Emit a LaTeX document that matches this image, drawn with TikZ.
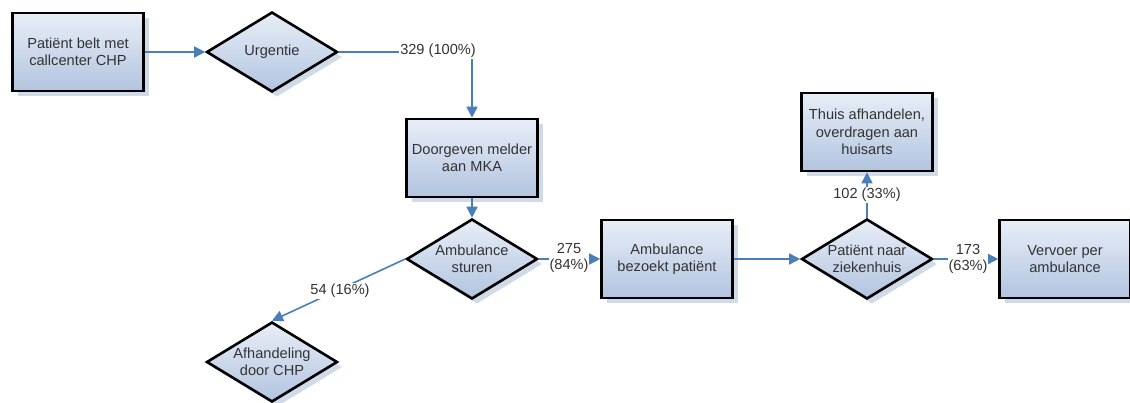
\documentclass[tikz,border=0pt]{standalone}
\usepackage{fontspec}
\setmainfont{Liberation Sans}
\usetikzlibrary{shapes.geometric,arrows.meta,shadows}
\definecolor{edgec}{HTML}{4A7EBB}
\definecolor{topc}{HTML}{E8EEF7}
\definecolor{botc}{HTML}{B2C4E0}
\definecolor{shad}{HTML}{C6D1E4}
\definecolor{txt}{HTML}{333333}
\begin{document}
\begin{tikzpicture}[x=1pt,y=-1pt,
 base/.style={draw=black, line width=2.6pt, top color=topc, bottom color=botc, text=txt,
   font=\fontsize{14.6}{17.5}\selectfont, align=center, inner sep=0pt,
   drop shadow={shadow xshift=5pt, shadow yshift=-5pt, fill=shad, opacity=0.8, draw=none}},
 box/.style={base, rectangle, minimum width=131pt, minimum height=78pt},
 dia/.style={base, diamond, aspect=1.64, minimum width=131pt, minimum height=80pt},
 flow/.style={draw=edgec, line width=1.6pt, -{Triangle[length=11pt,width=11pt]}},
 lab/.style={fill=white, inner sep=1pt, font=\fontsize{14.6}{16}\selectfont, text=txt, align=center}]
\useasboundingbox (0,0) rectangle (1130,402);
\clip (0,0) rectangle (1130,402);

\node[box] (b1) at (78,52) {Patiënt belt met\\callcenter CHP};
\node[dia] (u) at (272,52) {Urgentie};
\node[box] (dg) at (472,158) {Doorgeven melder\\aan MKA};
\node[dia] (as) at (472,259) {Ambulance\\sturen};
\node[box] (abp) at (667,259) {Ambulance\\bezoekt patiënt};
\node[dia] (pz) at (867,259) {Patiënt naar\\ziekenhuis};
\node[box] (th) at (867,132) {Thuis afhandelen,\\overdragen aan\\huisarts};
\node[box] (vv) at (1065,259) {Vervoer per\\ambulance};
\node[dia] (afh) at (272,362) {Afhandeling\\door CHP};

\coordinate (c1) at (dg.north |- u.east);
\draw[flow] (b1.east) -- (u.west);
\draw[flow] (u.east) -- (c1) -- (dg.north);
\node[lab] (l1) at (438,51) {329 (100\%)};
\draw[flow] (dg.south) -- (as.north);
\draw[flow] (as.east) -- (abp.west);
\node[lab] (l2) at (569,258) {275\\(84\%)};
\draw[flow] (as.west) -- (afh.north);
\node[lab] (l3) at (340,291) {54 (16\%)};
\draw[flow] (abp.east) -- (pz.west);
\draw[flow] (pz.north) -- (th.south);
\node[lab] (l4) at (867,195) {102 (33\%)};
\draw[flow] (pz.east) -- (vv.west);
\node[lab] (l5) at (968,259) {173\\(63\%)};
\end{tikzpicture}
\end{document}
